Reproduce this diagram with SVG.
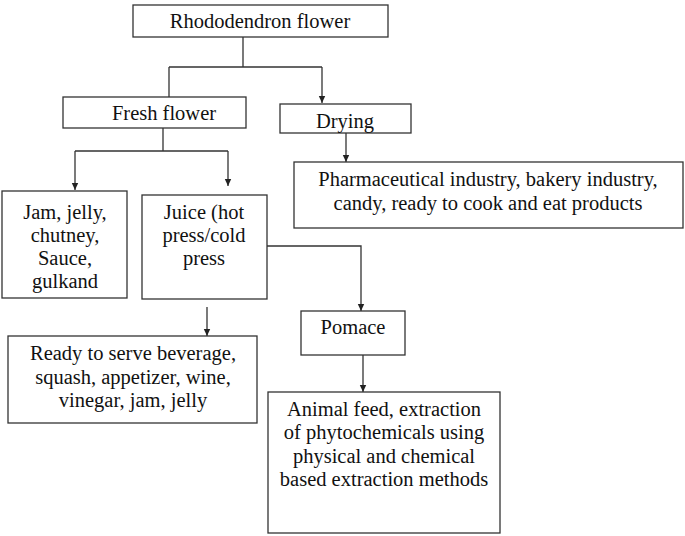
<svg xmlns="http://www.w3.org/2000/svg" width="685" height="536" viewBox="0 0 685 536">
<style>
.box{fill:#fff;stroke:#333;stroke-width:1.3}
.c{fill:none;stroke:#333;stroke-width:1.3}
text{font-family:"Liberation Serif","Times New Roman",Times,serif;font-size:20.5px;fill:#111;text-anchor:middle}
</style>
<defs>
<marker id="ah" markerWidth="8" markerHeight="8" refX="7" refY="4" orient="auto" markerUnits="userSpaceOnUse">
<path d="M0,0.8 L7,4 L0,7.2 Z" fill="#222"/>
</marker>
</defs>
<rect width="685" height="536" fill="#fff"/>
<g id="connectors">
<path class="c" d="M243,37 V67 M169,67 H322 M169,67 V97"/>
<path class="c" d="M322,67 V103" marker-end="url(#ah)"/>
<path class="c" d="M163,128 V151 M75,151 H228"/>
<path class="c" d="M75,151 V190" marker-end="url(#ah)"/>
<path class="c" d="M228,151 V186" marker-end="url(#ah)"/>
<path class="c" d="M346,133 V162" marker-end="url(#ah)"/>
<path class="c" d="M267,246 H361 V311" marker-end="url(#ah)"/>
<path class="c" d="M207,307 V336" marker-end="url(#ah)"/>
<path class="c" d="M363,355 V392" marker-end="url(#ah)"/>
</g>
<g id="rhododendron">
<rect class="box" x="133" y="5" width="255" height="32"/>
<text x="260" y="28">Rhododendron flower</text>
</g>
<g id="fresh">
<rect class="box" x="63" y="97" width="183" height="31"/>
<text x="164" y="120">Fresh flower</text>
</g>
<g id="drying">
<rect class="box" x="280" y="104" width="131" height="29"/>
<text x="345" y="128">Drying</text>
</g>
<g id="pharma">
<rect class="box" x="294" y="162" width="389" height="66"/>
<text x="488" y="186">Pharmaceutical industry, bakery industry,</text>
<text x="488" y="210">candy, ready to cook and eat products</text>
</g>
<g id="jam">
<rect class="box" x="2" y="191" width="125" height="107"/>
<text x="65" y="219">Jam, jelly,</text>
<text x="65" y="242">chutney,</text>
<text x="65" y="265">Sauce,</text>
<text x="65" y="288">gulkand</text>
</g>
<g id="juice">
<rect class="box" x="142" y="195" width="125" height="104"/>
<text x="204" y="219">Juice (hot</text>
<text x="204" y="242">press/cold</text>
<text x="204" y="265">press</text>
</g>
<g id="pomace">
<rect class="box" x="301" y="311" width="104" height="44"/>
<text x="353" y="334">Pomace</text>
</g>
<g id="ready">
<rect class="box" x="8" y="336" width="249" height="87"/>
<text x="133" y="360">Ready to serve beverage,</text>
<text x="133" y="384">squash, appetizer, wine,</text>
<text x="133" y="407">vinegar, jam, jelly</text>
</g>
<g id="animal">
<rect class="box" x="268" y="392" width="232" height="141"/>
<text x="384" y="416">Animal feed, extraction</text>
<text x="384" y="439">of phytochemicals using</text>
<text x="384" y="463">physical and chemical</text>
<text x="384" y="486">based extraction methods</text>
</g>
</svg>
